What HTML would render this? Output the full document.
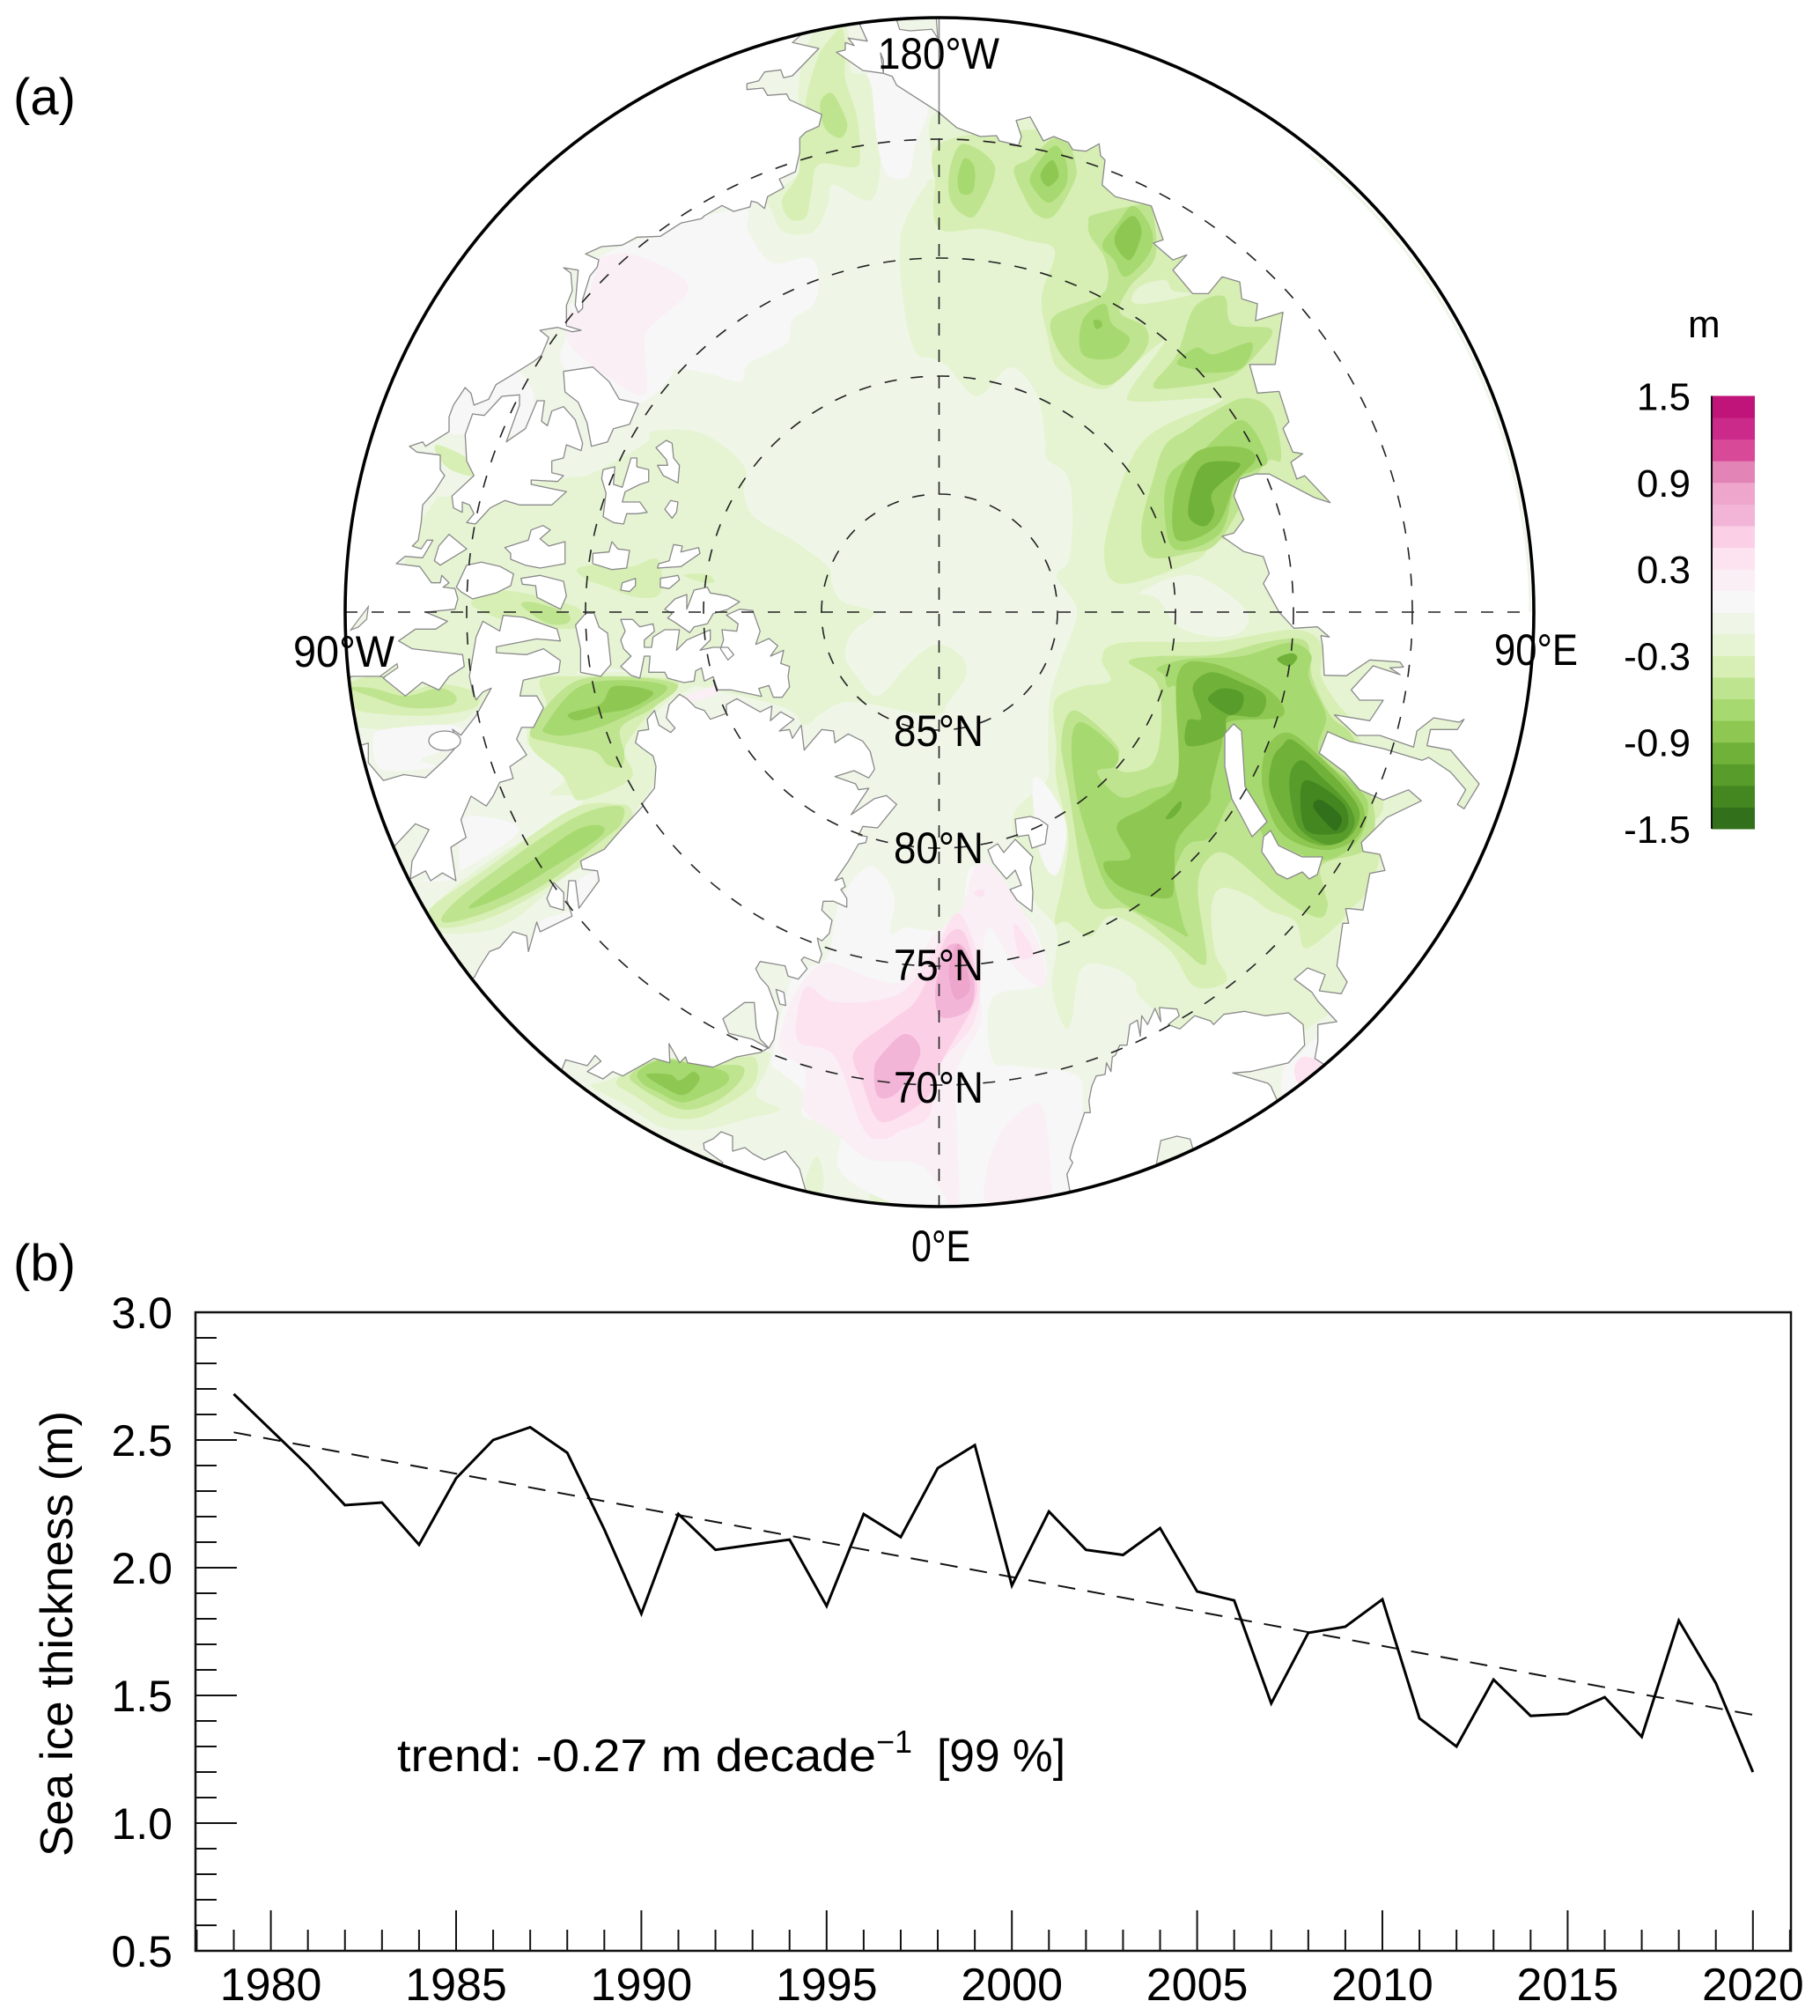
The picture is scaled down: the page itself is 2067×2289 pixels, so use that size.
<!DOCTYPE html>
<html lang="en">
<head>
<meta charset="utf-8">
<title>Sea ice thickness trend</title>
<style>
html,body{margin:0;padding:0;background:#fff}
svg{display:block}
text{font-family:"Liberation Sans",sans-serif;fill:#000}
</style>
</head>
<body>
<svg id="fig" xmlns="http://www.w3.org/2000/svg" width="2067" height="2289" viewBox="0 0 2067 2289">
<defs><clipPath id="disc"><circle cx="1067" cy="695" r="675"/></clipPath></defs>
<rect x="0" y="0" width="2067" height="2289" fill="#fff"/>
<text x="15" y="130" font-size="58">(a)</text>
<text x="15" y="1454" font-size="58">(b)</text>
<g id="map" clip-path="url(#disc)"></g>
<g id="grat" fill="none" stroke="#222" stroke-width="1.6"></g>
<circle cx="1067" cy="695" r="675" fill="none" stroke="#000" stroke-width="3.6"/>
<g>
<text x="997" y="78" font-size="50" textLength="138" lengthAdjust="spacingAndGlyphs">180°W</text>
<text x="333" y="757" font-size="50" textLength="115" lengthAdjust="spacingAndGlyphs">90°W</text>
<text x="1697" y="755" font-size="50" textLength="95" lengthAdjust="spacingAndGlyphs">90°E</text>
<text x="1035" y="1432" font-size="50" textLength="67" lengthAdjust="spacingAndGlyphs">0°E</text>
<text x="1015" y="847" font-size="50" textLength="102" lengthAdjust="spacingAndGlyphs">85°N</text>
<text x="1015" y="980" font-size="50" textLength="102" lengthAdjust="spacingAndGlyphs">80°N</text>
<text x="1015" y="1113" font-size="50" textLength="102" lengthAdjust="spacingAndGlyphs">75°N</text>
<text x="1015" y="1252" font-size="50" textLength="102" lengthAdjust="spacingAndGlyphs">70°N</text>
</g>
<g id="cbar"></g>
<text x="1917" y="383" font-size="44">m</text>
<g id="chart"></g>
<text transform="translate(82,1855) rotate(-90)" text-anchor="middle" font-size="52" textLength="506" lengthAdjust="spacingAndGlyphs">Sea ice thickness (m)</text>
<text x="451" y="2011" font-size="52" textLength="544" lengthAdjust="spacingAndGlyphs">trend: -0.27 m decade</text>
<text x="995" y="1990" font-size="36">−1</text>
<text x="1064" y="2011" font-size="52" textLength="146" lengthAdjust="spacingAndGlyphs">[99 %]</text>
</svg>
<script>
// ---------- time series data (panel b) ----------
const years = [1979,1980,1981,1982,1983,1984,1985,1986,1987,1988,1989,1990,1991,1992,1993,1994,1995,1996,1997,1998,1999,2000,2001,2002,2003,2004,2005,2006,2007,2008,2009,2010,2011,2012,2013,2014,2015,2016,2017,2018,2019,2020];
const thickness = [2.68,2.54,2.40,2.245,2.255,2.09,2.35,2.50,2.55,2.45,2.15,1.82,2.21,2.07,2.09,2.11,1.85,2.21,2.12,2.39,2.48,1.93,2.22,2.07,2.05,2.155,1.907,1.872,1.469,1.745,1.769,1.876,1.41,1.30,1.562,1.42,1.428,1.493,1.338,1.793,1.548,1.20];
const trendYears = [1979,2020];
const trendValues = [2.53,1.424];
const yTickLabels = ['0.5','1.0','1.5','2.0','2.5','3.0'];
const yMinorTicks = [0.6,0.7,0.8,0.9,1.1,1.2,1.3,1.4,1.6,1.7,1.8,1.9,2.1,2.2,2.3,2.4,2.6,2.7,2.8,2.9];
const xMajorYears = [1980,1985,1990,1995,2000,2005,2010,2015,2020];
const xMinorYears = [1978,1979,1981,1982,1983,1984,1986,1987,1988,1989,1991,1992,1993,1994,1996,1997,1998,1999,2001,2002,2003,2004,2006,2007,2008,2009,2011,2012,2013,2014,2016,2017,2018,2019,2021];
// ---------- colorbar data ----------
const cbColors = ['#33701b','#448720','#589c2b','#70b139','#8ec752','#a6d96f','#bfe48f','#d7efb4','#e6f4d3','#eff6e8','#f7f7f7','#f9eff4','#fde2f0','#fbd0e6','#f2b5d8','#eea6cc','#e285b6','#d84a98','#cc2a8a','#c0147a'];
const cbTickLabels = ['-1.5','-0.9','-0.3','0.3','0.9','1.5'];
const cbTickValues = [-1.5,-0.9,-0.3,0.3,0.9,1.5];
const cbLevels = 20;

const NS='http://www.w3.org/2000/svg';
function mk(tag,attrs,parent){const e=document.createElementNS(NS,tag);for(const k in attrs)e.setAttribute(k,attrs[k]);parent.appendChild(e);return e;}

// ---------- zoom-space transforms used for tracing ----------
const T=[0,0,1,1],Z1=[1100,100,1/2.24,1/2.613],Z2=[1150,680,1/2.613,1/3],Z4=[380,500,1/2.613,1/2.24],Z7=[600,950,1/2.24,1/3],Z8=[800,0,1/3,1/3],Z9=[440,200,1/3,1/3],Z10=[700,620,1/3,1/3],Z11=[1100,1000,1/3,1/3];
function conv(z,f){const o=[];for(let i=0;i<f.length;i+=2)o.push([z[0]+f[i]*z[2],z[1]+f[i+1]*z[3]]);return o;}
function smooth(p){let d='M'+p[0][0].toFixed(1)+' '+p[0][1].toFixed(1);const n=p.length;for(let i=0;i<n;i++){const a=p[(i-1+n)%n],b=p[i],c=p[(i+1)%n],e=p[(i+2)%n];d+='C'+(b[0]+(c[0]-a[0])/6).toFixed(1)+' '+(b[1]+(c[1]-a[1])/6).toFixed(1)+' '+(c[0]-(e[0]-b[0])/6).toFixed(1)+' '+(c[1]-(e[1]-b[1])/6).toFixed(1)+' '+c[0].toFixed(1)+' '+c[1].toFixed(1);}return d+'Z';}
function poly(p){return 'M'+p.map(q=>q[0].toFixed(1)+' '+q[1].toFixed(1)).join('L')+'Z';}

// ---------- contour bands: [colour level index, transform, outline] ----------
const bands=[
[8,T,[493,570,513,563,640,543,673,537,733,503,740,490,787,489,823,507,847,533,845,560,857,587,900,613,940,643,945,663,957,683,993,695,973,713,963,727,960,747,973,767,997,790,1033,753,1062,732,1090,743,1097,767,1077,797,1060,812,967,797,933,810,913,823,880,800,700,760,500,720,460,640]],
[8,Z4,[30,590,50,560,190,500,270,420,600,410,730,420,730,580,590,640,560,720,430,690,350,720,60,725]],
[8,Z4,[570,745,610,610,1010,590,1090,610,950,700,950,860,880,960,830,1040,720,1085,500,1235,290,1250,275,1200,450,1075,735,920,640,900,680,860,590,790]],
[8,T,[1065,125,1063,200,1053,207,1023,267,1027,350,1040,400,1060,407,1077,417,1110,450,1147,417,1177,447,1187,500,1189,521,1212,540,1218,582,1214,636,1200,655,1223,693,1205,750,1192,793,1190,847,1188,887,1150,930,1172,1017,1200,1057,1195,1120,1207,1163,1217,1160,1228,1100,1260,1097,1287,1113,1303,1140,1400,1200,1560,1100,1700,800,1500,300,1200,100]],
[8,Z7,[700,1205,730,1090,750,1140,745,1215]],
[8,Z7,[870,1235,930,1150,1000,1220,1000,1270]],
[8,Z8,[365,120,480,85,500,240,560,270,600,500,570,680,440,630,420,700,370,790,270,790,230,720,215,670,320,590,325,470,400,390,320,340]],
[8,Z11,[995,260,1060,90,1100,190,1030,275]],
[10,T,[680,295,723,273,750,268,773,253,833,238,850,240,850,263,877,298,920,293,930,320,923,347,900,363,893,390,850,413,840,433,800,423,763,420,717,442,763,420,750,442,725,460,725,463,708,463,695,460,725,463,700,460,640,417,643,380,647,347,660,340]],
[10,Z8,[555,250,610,250,740,340,760,390,720,490,700,590,670,610,620,590,590,490,570,300]],
[10,Z9,[215,790,270,725,290,770,340,760,370,710,450,670,500,760,470,860,410,880,270,880,210,870]],
[10,Z2,[60,620,110,650,160,780,130,940,80,860]],
[10,Z4,[250,1120,360,1100,530,1010,530,975,420,955,380,965,370,1010,360,1110]],
[10,Z4,[115,760,150,735,350,725,380,770,260,810,300,830,200,840,130,830]],
[10,Z4,[580,1295,610,1225,710,1190,720,1125,780,1100,740,1180,690,1240]],
[10,Z7,[620,760,650,570,680,470,760,410,780,280,800,200,870,100,930,200,920,330,960,310,1030,320,1100,300,1130,100,1250,250,1300,350,1310,500,1180,550,1180,760,1240,780,1390,810,1410,900,1400,1100,1370,1210,1200,1270,1000,1270,870,1215,790,1130,790,1000,700,950,700,870,640,800]],
[11,Z9,[720,280,830,265,990,335,1020,400,900,510,875,570,885,720,850,745,760,690,700,645,620,570,610,470,665,445,720,300]],
[11,Z7,[660,590,700,490,760,430,870,480,950,490,1030,340,1100,250,1140,100,1200,130,1300,370,1310,510,1240,450,1170,310,1150,520,1150,640,1090,800,1090,1000,1090,1270,1000,1120,870,1100,790,1020,700,930,705,800,640,720]],
[11,Z11,[60,1000,90,900,130,830,220,760,260,800,280,1000,265,1100,70,1100]],
[11,Z4,[1045,650,1130,625,1135,645,1060,665]],
[12,Z7,[685,600,710,510,770,560,870,560,960,520,1040,370,1090,260,1130,350,1150,480,1130,640,1040,790,1020,950,950,1000,900,1030,850,990,780,750,690,700]],
[12,Z7,[1235,300,1260,330,1285,400,1250,410]],
[12,Z7,[1135,190,1155,180,1160,200,1145,205]],
[13,Z7,[830,730,930,620,985,560,1035,430,1070,330,1110,330,1140,480,1130,580,1050,770,1020,880,950,950,890,965,850,840]],
[14,Z7,[880,790,900,740,950,675,985,690,995,750,940,870,890,885]],
[14,Z7,[1035,530,1050,430,1070,370,1110,380,1135,500,1120,590,1050,615]],
[15,Z7,[1070,450,1095,365,1120,470,1120,530,1085,550]],
[9,T,[1296,672,1354,653,1412,689,1414,713,1387,723,1341,713,1315,680]],
// Chukchi
[7,Z8,[430,130,470,100,480,190,480,270,520,400,530,530,510,570,390,560,365,650,345,740,290,745,265,680,320,590,330,460,390,420,345,360,385,200]],
[6,Z8,[395,350,435,318,480,400,485,440,460,470,410,435]],
// Siberian shelf
[7,T,[1082,157,1062,213,1067,260,1117,260,1167,273,1198,285,1183,337,1190,383,1203,420,1252,442,1283,418,1323,387,1283,444,1292,456,1368,452,1386,456,1323,483,1292,509,1270,559,1254,628,1274,663,1359,636,1386,613,1500,600,1500,200,1300,150]],
[8,T,[1285,340,1295,325,1323,318,1332,330,1355,334,1300,345]],
[6,Z8,[885,490,990,570,930,725,880,730,835,670,840,560]],
[6,Z8,[1190,470,1240,490,1265,560,1260,620,1190,735,1130,730,1085,660,1055,575,1110,540]],
[6,Z1,[305,400,320,375,440,345,465,350,475,500,410,590,385,665,450,710,448,780,360,880,280,840,225,770,215,680,330,620,355,570,345,500,310,440]],
[6,Z1,[575,650,650,618,670,700,770,715,740,780,660,860,520,890,470,880,530,790]],
[6,Z1,[610,970,700,920,770,960,795,1100,750,1120,640,1340,560,1380,460,1390,440,1300,470,1160,500,1060,560,1010]],
[5,Z8,[885,540,920,570,915,650,875,660,863,610]],
[5,Z8,[1190,497,1232,550,1232,630,1175,690,1120,640,1115,590]],
[4,Z8,[1185,545,1207,600,1170,635,1145,595]],
[5,Z1,[420,350,465,420,460,490,400,560,370,510,340,465,380,400]],
[4,Z1,[420,380,440,430,410,510,372,460,385,410]],
[5,Z1,[345,640,365,700,410,745,370,800,290,790,290,690]],
[4,Z1,[318,690,335,690,340,705,325,715]],
[5,Z1,[530,815,580,770,625,790,720,755,695,830,610,845,575,835]],
[5,Z1,[590,1080,695,985,760,1100,725,1135,680,1170,640,1320,530,1370,500,1280,510,1150]],
[4,Z1,[580,1080,690,1065,730,1100,680,1170,630,1300,530,1340,525,1200]],
[3,Z1,[600,1115,680,1110,685,1130,620,1200,625,1260,600,1300,560,1270,570,1180]],
// Barents and Kara
[7,Z2,[265,205,320,150,600,145,830,105,915,150,915,260,960,350,1010,430,1100,690,1050,790,1090,870,1050,1000,1000,1060,965,1110,870,1190,840,1100,760,1060,700,1010,620,985,590,1050,600,1200,635,1300,540,1320,460,1190,300,1080,230,1150,160,1100,125,1100,150,960,165,800,130,620,130,500,125,350,200,300,290,280]],
[6,Z2,[345,215,430,195,600,190,760,145,870,145,890,270,945,400,1010,470,1060,650,1075,780,1040,860,920,905,925,990,935,1050,905,1085,800,1020,640,870,570,900,550,1000,575,1210,560,1245,490,1180,350,1060,230,1020,165,640,145,480,185,380,310,500,305,570,345,590,415,560,440,450,430,290]],
[5,Z2,[430,235,520,205,680,195,820,150,885,190,880,270,930,400,910,525,1030,650,1055,720,1020,830,920,890,780,830,735,790,690,640,640,700,590,810,530,830,500,870,480,950,505,1100,520,1150,470,1120,300,1010,230,830,190,670,175,490,205,420,305,510,305,570,250,590,320,675,400,650,495,590,490,320,460,300,450,260]],
[4,Z2,[490,260,590,220,760,310,800,400,640,420,620,500,590,640,580,700,490,820,480,950,460,1020,320,980,270,900,350,880,310,770,410,700,490,600]],
[4,Z2,[780,470,830,460,905,530,1000,640,1045,730,1015,820,920,855,800,800,745,660,745,540]],
[3,Z2,[535,300,590,250,680,285,750,330,730,400,640,400,625,470,520,500,520,415,560,405]],
[2,Z2,[580,340,620,305,680,320,680,370,650,395,610,375]],
[3,Z2,[785,205,825,185,845,200,820,230]],
[3,Z2,[455,745,495,690,500,710,475,745]],
[3,Z2,[800,500,830,480,905,550,990,650,1030,730,1000,810,920,840,830,790,765,660,770,550]],
[2,Z2,[825,590,860,550,920,610,990,690,1015,760,985,820,925,835,850,780,825,680]],
[1,Z2,[855,650,885,620,980,695,995,770,960,800,870,785]],
[0,Z2,[893,710,915,685,975,740,965,785,945,780]],
// Canadian Archipelago
[7,Z9,[645,1340,700,1325,830,1330,920,1305,930,1420,850,1435,750,1400,680,1375]],
[7,Z9,[1010,1360,1085,1355,1115,1380,1080,1385]],
[7,Z4,[405,415,450,390,540,385,720,425,720,470,690,480,550,470,450,440]],
[6,Z4,[555,420,590,412,690,440,690,465,630,465]],
[7,Z9,[170,915,270,960,295,1020,215,1000,170,950]],
// Hudson strip
[7,Z4,[45,620,130,600,200,640,310,620,415,640,415,680,280,700,130,695,60,680]],
[6,Z4,[45,630,110,630,210,650,310,630,360,650,340,675,220,680,120,655]],
// Baffin
[7,Z4,[610,610,700,600,1010,610,950,680,900,730,860,790,880,860,735,915,700,890,675,850,590,790,580,740,630,680]],
[6,Z4,[580,740,690,625,820,600,1015,620,945,680,850,730,860,795,850,830,810,825,770,790,650,770]],
[5,Z4,[625,725,720,630,850,610,985,625,930,670,800,725,690,750,630,745]],
[4,Z4,[695,695,790,670,830,625,945,640,880,680,790,695,720,712]],
[7,Z4,[280,1195,450,1090,700,940,840,925,880,940,880,990,820,1040,720,1090,500,1200,330,1240]],
[6,Z4,[320,1210,420,1130,700,965,845,930,850,975,790,1020,640,1120,480,1190,350,1225]],
[5,Z4,[400,1185,600,1060,720,990,790,980,785,1010,640,1090,500,1160]],
// Greenland Sea
[8,Z7,[200,830,350,760,590,730,610,780,580,880,640,930,560,960,480,990,420,1000,340,990,240,910,160,850]],
[7,Z7,[225,830,340,760,530,750,580,760,570,850,480,930,420,960,350,950,280,890]],
[6,Z7,[260,810,340,755,440,780,540,780,540,830,480,900,400,930,330,890,280,850]],
[5,Z7,[280,800,340,760,420,775,500,800,505,840,450,880,390,905,330,870,290,840]],
[4,Z7,[300,810,360,810,385,830,420,800,435,830,395,880,340,850]],
// White Sea channel
[10,Z11,[1075,640,1130,590,1190,540,1230,640,1080,740]],
[12,Z11,[1110,640,1140,600,1200,625,1130,690]]
];

// ---------- land masses: lists of [transform, outline] segments ----------
const lands=[
// Alaska and northern Canada
[[Z8,[330,118,300,145,390,165,300,258,270,265,260,238,205,245,185,275,145,285,145,305,200,300,215,325,280,320,290,340,400,390,390,430,345,450,325,470,325,520,310,585,255,610,270,640,215,670,205,710,180,690,160,685,155,705,100,720,60,700,0,735]],
 [Z9,[1070,145,1000,160,930,205,850,208,800,235,730,240,675,265,720,285,715,310,690,340,665,420,665,450,650,465,640,440,650,320,600,312,625,330,630,390,610,440,610,510,660,525,630,530,580,515,520,525,550,550,525,610,500,630,420,680,370,710,345,760,295,780,285,740,265,720,225,780,210,820,210,870,130,920,120,905,75,920,100,940,180,950,180,1000,195,1020,160,1075,120,1120,115,1180,105,1240,85,1260,115,1270,135,1240,155,1240,120,1300,60,1295,30,1320,110,1330,150,1385,180,1385,185,1360,210,1385,190,1400,230,1405,240,1440,230,1475,130,1485]],
 [Z4,[335,460,300,480,240,480,190,510,230,530,380,545,385,575,340,600,310,635,260,615,210,650,145,605,185,570,135,600,50,600,30,620]],
 [T,[350,780,350,300,600,100,800,0,905,40]]],
// Baffin, Quebec and Labrador
[[Z4,[80,775,100,770,100,820,145,865,205,850,270,858,330,810,370,770,350,735,375,750,420,700,465,630,440,640,420,660,410,640,400,600,420,500,440,460,490,485,500,445,560,450,660,480,670,510,600,505,480,525,480,540,570,545,620,530,670,560,665,590,560,610,550,650,600,650,620,680,590,730,555,730,540,760,570,800,520,830,530,860,490,870,470,905,450,930,405,905,375,965,390,1010,345,1035,360,1120,320,1100,285,1120,270,1095,225,1115,230,1070,280,990,240,975,180,1030]],
 [T,[400,950,370,850]]],
// Greenland
[[Z4,[415,1365,430,1340,460,1300,490,1290,530,1250,570,1260,575,1300,600,1225,610,1250,705,1210,690,1170,695,1120,715,1120,725,1190,785,1120,780,1095,735,1090,730,1070,800,1040,840,1000,915,930]],
 [Z10,[90,875,130,825,135,750,125,715,90,690,65,670,75,630,110,625,105,590,130,560,145,610,185,635,200,620,170,585,180,540,215,505,240,520,270,550,300,560,320,590,375,570,375,540,410,520,490,565,530,545,525,595,560,565,605,590,555,630,590,625,600,655,630,610,640,695,700,625,740,630,745,670,790,640,840,665,865,700,880,760,860,790,810,765,745,785,815,810,825,830,860,825,800,915,880,860,920,850,955,880,890,960,840,955,825,985,855,990,850,1010,825,1015,790,1075,745,1140,770,1130,780,1160,765,1170,785,1200,785,1230,740,1210,705,1210,700,1240,735,1275,725,1320,700,1345,685,1335,690,1360,700,1390,690,1420,640,1400,630,1410,650,1440,620,1475,585,1465,575,1430,490,1415,475,1440,490,1470]],
 [Z7,[610,510,635,600,625,690,612,720,590,690,580,650,575,565,550,565,495,620,510,670,570,690,610,720,590,735,530,750,470,785,405,770,400,750,385,770,358,705,360,770,320,755,240,815,215,800,190,825,150,800,185,765,170,745,150,780,95,760,85,795]],
 [T,[600,1200,520,1120]]],
// Siberia
[[Z8,[530,85,555,140,490,130,510,155,480,145,480,170,450,178,540,240,610,250,600,180,610,205,610,250,640,260,655,290,795,380,860,435,940,465,995,462,1005,480,1070,495,1080,465,1062,410,1110,398,1155,480,1190,465,1240,485,1255,510,1300,515,1345,490,1350,530,1365,545,1355,630,1400,670,1500,695]],
 [Z1,[465,350,495,450,470,460,520,510,555,495,520,540,570,610,610,610,645,560,690,575,695,625,735,640,730,690,800,665,780,820,715,820,735,905,790,900,815,990,800,1010,825,1080,850,1085,820,1110,835,1160,855,1150,920,1230,880,1215,765,1145,730,1145,690,1160,675,1210,700,1280,675,1320,645,1330,700,1375,750,1390,765,1440,750,1470,790,1555]],
 [Z2,[835,100,905,95,940,130,915,125,920,160,925,260,990,262,1060,208,1150,215,1160,232,1120,235,1150,258,1070,228,1005,310,1030,345,1100,345,1060,415,955,395,1020,465,1090,465,1190,505,1200,450,1250,405,1325,420,1340,410,1320,445,1240,445,1230,500,1300,515,1385,630,1340,715,1320,700,1345,650,1300,590,1235,540,1215,550,1100,510,1000,485,935,452,910,525,985,590,1030,650,1100,685,1175,650,1213,688,1110,745,1035,830,1040,860,1090,870,1105,925,1060,935,1040,1060,1000,1055]],
 [Z11,[1285,95,1295,145,1275,145,1255,290,1290,345,1270,385,1195,375,1215,320,1155,297,1110,335,1170,380,1190,410,1255,480,1190,490,1190,550,1180,605,1210,625]],
 [T,[1800,1300,1800,0,1000,0]]],
// Scandinavia
[[Z11,[1050,745,1030,700,1020,690,900,655,960,650,1090,620,1145,560,1140,490,1090,450,1010,460,940,445,870,455,835,490,825,478,770,460,720,505,680,490,718,460,710,437,650,432,655,480,635,435,610,490,590,460,585,530,575,475,550,490,540,560,515,560,500,595,490,600,485,650,470,620,465,660,435,665,420,700,410,750,415,790,395,790,375,850,355,905,345,945,355,960,335,1000,345,1055]],
 [T,[1300,1400,1500,1300]]],
// Iceland edge
[[T,[821,1320,800,1305,799,1298,810,1293,819,1285,832,1290,832,1307,846,1303,855,1310,868,1317,892,1307,908,1327,915,1352,900,1375,800,1345]]],
// Novaya Zemlya
[[T,[1401,822,1410,830,1414,893,1439,933,1422,950,1410,927,1399,907,1391,870,1391,833]]],
[[T,[1443,943,1452,960,1479,973,1502,973,1496,993,1487,998,1479,990,1462,998,1450,992,1433,967,1435,950]]],
// Svalbard
[[T,[1122,965,1133,958,1140,968,1153,953,1173,973,1170,985,1173,1013,1172,1035,1155,1022,1147,1010,1160,1005,1153,988,1143,998,1128,980]]],
[[T,[1153,930,1170,927,1180,930,1190,937,1187,958,1172,963,1168,948,1155,950]]],
// Arctic archipelago islands
[[Z9,[290,810,330,815,390,750,450,745,450,780,405,905,470,860,510,765,535,765,525,835,545,850,560,800,600,785,640,830,665,910,660,935,610,915,600,960,560,970,560,1010,600,1020,580,1040,490,1035,490,1050,610,1075,560,1120,450,1120,400,1105,350,1130,300,1185,270,1180,295,1150,280,1120,255,1110,255,1145,225,1130,220,1090,295,1020,270,970,265,880]]],
[[Z9,[600,665,700,650,755,700,790,760,855,775,825,845,770,860,750,905,695,920,680,840,650,770,605,735]]],
[[Z9,[735,1000,775,990,770,1050,800,1060,830,960,850,960,850,990,890,1000,890,1040,860,1050,810,1075,800,1110,860,1110,885,1145,850,1150,815,1150,805,1185,770,1180,735,1160,745,1080,730,1030]]],
[[Z9,[915,925,950,900,970,910,975,960,995,985,990,1045,940,1020,920,985,955,985,950,965]]],
[[Z9,[965,1105,990,1110,985,1145,970,1165,945,1135]]],
[[Z9,[210,1220,270,1270,180,1325,160,1310,175,1260]]],
[[Z9,[400,1265,480,1240,490,1205,530,1190,555,1205,520,1235,550,1260,605,1245,605,1320,520,1335,470,1325,420,1305,420,1285]]],
[[Z9,[700,1285,755,1280,765,1245,785,1270,825,1275,815,1335,765,1340,700,1320]]],
[[Z9,[975,1255,1005,1260,1000,1280,1060,1265,1065,1285,1000,1330,920,1335,925,1320,960,1310]]],
[[Z9,[800,1385,845,1370,845,1395,825,1415,795,1410]]],
[[Z9,[930,1370,990,1360,995,1375,960,1405,930,1400]]],
[[Z9,[235,1400,270,1325,320,1315,385,1330,430,1355,420,1395,370,1420,290,1440,250,1415]]],
[[Z9,[455,1370,520,1360,600,1380,610,1430,590,1475,510,1435,505,1395,460,1390]]],
[[Z4,[715,470,745,440,770,440,785,475,810,490,820,570,790,600,730,590,730,530]]],
[[Z10,[15,250,55,250,80,275,125,265,130,290,95,320,95,345,120,345,125,310,165,285,215,285,205,355,240,320,320,285,320,320,285,355,330,345,380,345,400,370,380,388,355,350,365,320,360,285,410,290,415,265,375,235,420,215,465,220,490,290,475,335,520,315,550,340,525,375,570,355,560,400,590,410,585,445,590,480,565,515,535,515,520,475,485,485,495,512,440,500,390,490,345,490,330,445,300,460,290,415,270,425,265,460,230,465,175,450,165,430,110,430,115,375,95,375,80,450,50,440,15,410,50,375,25,350,15,320,30,290]]],
[[Z10,[165,215,200,180,240,165,240,215,265,150,310,140,320,160,380,170,420,190,380,215,330,230,310,265,265,275,250,295,200,260,175,245,190,230]]],
[[Z7,[630,520,650,530,655,575,640,570]]],
[[Z4,[630,1165,650,1125,680,1150,680,1195,640,1185]]]
];
// small water bodies drawn on top of land: [colour level, transform, outline]
const seaBits=[
[9,Z8,[655,68,790,60,795,130,775,100,700,105,665,100]],
[9,Z11,[655,885,710,870,755,880,765,915,640,965]],
[9,Z4,[48,482,100,423,95,455,70,475]],
[8,Z4,[135,600,185,568,188,578,145,603]]
];

const map=document.getElementById('map');
const base=mk('circle',{cx:1067,cy:695,r:675,fill:cbColors[9]},map);


bands.forEach(b=>{
  const el=mk('path',{d:smooth(conv(b[1],b[2])),fill:cbColors[b[0]]},map);
  
  
});
lands.forEach(l=>{
  let p=[];l.forEach(s=>{p=p.concat(conv(s[0],s[1]));});
  const el=mk('path',{d:poly(p),fill:'#fff',stroke:'#8a8a8a','stroke-width':1.3,'stroke-linejoin':'round'},map);
  
  
});
seaBits.forEach(b=>{
  const el=mk('path',{d:poly(conv(b[1],b[2])),fill:cbColors[b[0]],stroke:'#8a8a8a','stroke-width':1.2},map);
  
  
});
const lake=mk('ellipse',{cx:505,cy:841,rx:18,ry:11,fill:'#fff',stroke:'#8a8a8a','stroke-width':1.3},map);


const rim=mk('path',{d:'M1488 175A671 671 0 0 1 1738 695',fill:'none',stroke:cbColors[9],'stroke-width':3},map);



// ---------- graticule ----------
const parallelLabels=[85,80,75,70];
const parallelRadii=[134,268,402,537];
const grat=document.getElementById('grat');
parallelRadii.forEach((r,i)=>{
  const c=mk('circle',{cx:1067,cy:695,r:r,'stroke-dasharray':'14 16'},grat);
  
  
});
const h=mk('line',{x1:392,y1:695,x2:1742,y2:695,'stroke-dasharray':'14 16'},grat);


const v=mk('line',{x1:1066.5,y1:127,x2:1066.5,y2:1370,'stroke-dasharray':'14 16'},grat);


const v2=mk('line',{x1:1066.5,y1:20,x2:1066.5,y2:127,stroke:'#888'},grat);



// ---------- colorbar ----------
const cb=document.getElementById('cbar');
const cbX=1944,cbW=49,cbTop=449.5,cbBottom=941;
function cbY(v){return cbBottom-(v+1.5)/3*(cbBottom-cbTop);}
cbColors.forEach((c,i)=>{
  const step=3/cbLevels,lo=-1.5+i*step;
  const r=mk('rect',{x:cbX,y:cbY(lo+step),width:cbW,height:cbY(lo)-cbY(lo+step)+0.5,fill:c},cb);
  
  
});
const cbLine=mk('line',{x1:cbX,y1:cbTop,x2:cbX,y2:cbBottom,stroke:'#111','stroke-width':2},cb);


cbTickValues.forEach((v,i)=>{
  const t=mk('text',{x:1920,y:cbY(v)+16,'text-anchor':'end','font-size':44},cb);
  t.textContent=cbTickLabels[i];
  
  
});

// ---------- chart ----------
const ch=document.getElementById('chart');
const plot={l:222,r:2034,t:1490,b:2215};
function xS(y){return 307.6+(y-1980)*42.08;}
function yS(v){return plot.b-(v-0.5)/2.5*(plot.b-plot.t);}
const frame=mk('rect',{x:plot.l,y:plot.t,width:plot.r-plot.l,height:plot.b-plot.t,fill:'none',stroke:'#111','stroke-width':2.5},ch);


yTickLabels.forEach(s=>{
  const val=parseFloat(s);
  if(val>0.5&&val<3){
    const tk=mk('line',{x1:plot.l,x2:plot.l+47,y1:yS(val),y2:yS(val),stroke:'#111','stroke-width':2},ch);
    
    
  }
  const t=mk('text',{x:196,y:yS(val)+18,'text-anchor':'end','font-size':50},ch);
  t.textContent=s;
  
  
});
yMinorTicks.forEach(val=>{
  const tk=mk('line',{x1:plot.l,x2:plot.l+24,y1:yS(val),y2:yS(val),stroke:'#111','stroke-width':2},ch);
  
  
});
xMajorYears.forEach(y=>{
  const tk=mk('line',{x1:xS(y),x2:xS(y),y1:plot.b,y2:plot.b-46,stroke:'#111','stroke-width':2},ch);
  
  
  const t=mk('text',{x:xS(y),y:2271,'text-anchor':'middle','font-size':52},ch);
  t.textContent=String(y);
  
  
});
xMinorYears.forEach(y=>{
  const tk=mk('line',{x1:xS(y),x2:xS(y),y1:plot.b,y2:plot.b-24,stroke:'#111','stroke-width':2},ch);
  
  
});
const trend=mk('polyline',{points:trendYears.map((y,i)=>xS(y)+','+yS(trendValues[i])).join(' '),fill:'none',stroke:'#111','stroke-width':2,'stroke-dasharray':'20 14'},ch);


const series=mk('polyline',{points:years.map((y,i)=>xS(y)+','+yS(thickness[i])).join(' '),fill:'none',stroke:'#000','stroke-width':3,'stroke-linejoin':'miter'},ch);


</script>
</body>
</html>
